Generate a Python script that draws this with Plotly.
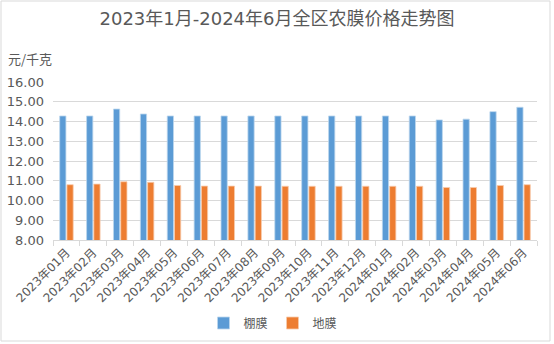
import plotly.graph_objects as go

months = ["2023年01月", "2023年02月", "2023年03月", "2023年04月", "2023年05月", "2023年06月",
          "2023年07月", "2023年08月", "2023年09月", "2023年10月", "2023年11月", "2023年12月",
          "2024年01月", "2024年02月", "2024年03月", "2024年04月", "2024年05月", "2024年06月"]
greenhouse_film = [14.28, 14.28, 14.63, 14.38, 14.28, 14.28, 14.28, 14.28, 14.28,
                   14.28, 14.28, 14.28, 14.28, 14.28, 14.08, 14.12, 14.50, 14.72]
mulch_film = [10.80, 10.83, 10.95, 10.92, 10.76, 10.73, 10.73, 10.73, 10.72,
              10.72, 10.72, 10.72, 10.72, 10.72, 10.66, 10.66, 10.76, 10.80]
y_ticks = [8, 9, 10, 11, 12, 13, 14, 15, 16]

W, H = 554, 344
L, R, T, B = 53, 17, 82, 104
pw, ph = W - L - R, H - T - B

fig = go.Figure()
fig.add_bar(x=months, y=greenhouse_film, name="棚膜",
            marker=dict(color="#5B9BD5", line=dict(color="#BDD7EE", width=0.8)))
fig.add_bar(x=months, y=mulch_film, name="地膜",
            marker=dict(color="#ED7D31", line=dict(color="#F8CBAD", width=0.8)))

font_family = "DejaVu Sans, Noto Sans CJK SC, sans-serif"
fig.update_layout(
    width=W, height=H,
    margin=dict(l=L, r=R, t=T, b=B, autoexpand=False),
    paper_bgcolor="white", plot_bgcolor="white",
    barmode="group", bargap=0.46, bargroupgap=0.14,
    font=dict(family=font_family, color="#595959"),
    title=dict(text="2023年1月-2024年6月全区农膜价格走势图", x=0.5, xanchor="center",
               y=1 - 19 / H, yanchor="middle", font=dict(size=18, color="#595959")),
    legend=dict(orientation="h", x=(273 - L) / pw, xanchor="center",
                y=-(323 - (T + ph)) / ph, yanchor="middle",
                font=dict(size=12, color="#595959"), itemwidth=30),
    showlegend=True,
)
fig.update_yaxes(range=[8, 16], tickvals=y_ticks, tickformat=".2f", automargin=False,
                 showgrid=True, gridcolor="#D9D9D9", gridwidth=1,
                 zeroline=False, showline=False, ticklabelstandoff=8,
                 tickfont=dict(size=13, color="#595959"), ticklen=0, ticks="")
fig.update_xaxes(tickangle=-45, tickfont=dict(size=12, color="#595959"), automargin=False,
                 showline=True, linecolor="#D9D9D9", linewidth=1,
                 ticks="outside", tickson="boundaries", ticklen=5, tickcolor="#D9D9D9")

fig.add_annotation(text="元/千克", xref="paper", yref="paper",
                   x=(6 - L) / pw, y=1 + (T - 58) / ph, xanchor="left", yanchor="middle",
                   showarrow=False, font=dict(size=13, color="#595959",
                                              family="Noto Sans CJK SC, sans-serif"))
fig.add_shape(type="rect", xref="paper", yref="paper",
              x0=(1 - L) / pw, x1=(550 - L) / pw,
              y0=-(341 - (T + ph)) / ph, y1=1 + (T - 1) / ph,
              line=dict(color="#D9D9D9", width=1), layer="below")

fig.write_html("out.html")
